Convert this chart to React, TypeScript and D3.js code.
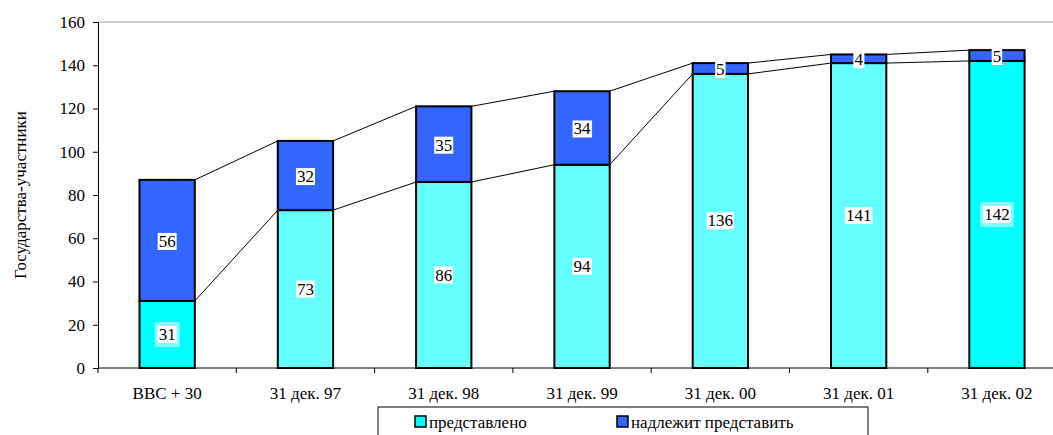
import React, { useEffect, useRef } from "react";
import * as d3 from "d3";

const categories = ["ВВС + 30", "31 дек. 97", "31 дек. 98", "31 дек. 99", "31 дек. 00", "31 дек. 01", "31 дек. 02"];
const submitted = [31, 73, 86, 94, 136, 141, 142];
const pending = [56, 32, 35, 34, 5, 4, 5];
const yTicks = [0, 20, 40, 60, 80, 100, 120, 140, 160];
const seriesNames = ["представлено", "надлежит представить"];

const FONT = '"Liberation Serif", LiberationSerif, Tinos, "Times New Roman", Times, "DejaVu Serif", "Noto Serif", serif';

const App: React.FC = () => {
  const ref = useRef<SVGSVGElement>(null);

  useEffect(() => {
    const width = 1053;
    const height = 435;
    const left = 98;
    const top = 22;
    const bottom = 368;
    const bandW = 138.3;
    const fs = "17px";

    const svg = d3.select(ref.current).attr("width", width).attr("height", height);
    svg.selectAll("*").remove();

    const x = d3.scaleBand<string>()
      .domain(categories)
      .range([left, left + bandW * categories.length])
      .paddingInner(0.6)
      .paddingOuter(0.3);
    const y = d3.scaleLinear().domain([0, 160]).range([bottom, top]);

    // top border of plot area
    svg.append("line")
      .attr("x1", left).attr("x2", width)
      .attr("y1", top).attr("y2", top)
      .attr("stroke", "#a0a0a0");

    const cyan = (i: number) => (i === 0 || i === categories.length - 1 ? "#00ffff" : "#66ffff");
    const blue = "#3366ff";

    // series lines
    const g = svg.append("g");
    for (let i = 0; i < categories.length - 1; i++) {
      const x1 = x(categories[i])! + x.bandwidth();
      const x2 = x(categories[i + 1])!;
      g.append("line")
        .attr("x1", x1).attr("x2", x2)
        .attr("y1", y(submitted[i])).attr("y2", y(submitted[i + 1]))
        .attr("stroke", "#000").attr("stroke-width", 1);
      g.append("line")
        .attr("x1", x1).attr("x2", x2)
        .attr("y1", y(submitted[i] + pending[i])).attr("y2", y(submitted[i + 1] + pending[i + 1]))
        .attr("stroke", "#000").attr("stroke-width", 1);
    }

    // bars
    categories.forEach((c, i) => {
      const bx = x(c)!;
      svg.append("rect")
        .attr("x", bx).attr("width", x.bandwidth())
        .attr("y", y(submitted[i])).attr("height", y(0) - y(submitted[i]))
        .attr("fill", cyan(i)).attr("stroke", "#000").attr("stroke-width", 2);
      svg.append("rect")
        .attr("x", bx).attr("width", x.bandwidth())
        .attr("y", y(submitted[i] + pending[i])).attr("height", y(submitted[i]) - y(submitted[i] + pending[i]))
        .attr("fill", blue).attr("stroke", "#000").attr("stroke-width", 2);
    });

    // value labels
    const label = (cx: number, cy: number, text: string, halo: boolean) => {
      const t = svg.append("text")
        .attr("x", cx).attr("y", cy)
        .attr("text-anchor", "middle").attr("dominant-baseline", "central")
        .style("font-family", FONT).style("font-size", fs)
        .text(text);
      const bb = (t.node() as SVGTextElement).getBBox();
      if (halo) {
        svg.insert("rect", () => t.node())
          .attr("x", bb.x - 4).attr("y", bb.y - 3)
          .attr("width", bb.width + 8).attr("height", bb.height + 6)
          .attr("fill", "#80ffff");
      }
      svg.insert("rect", () => t.node())
        .attr("x", bb.x - 1).attr("y", bb.y + 1)
        .attr("width", bb.width + 2).attr("height", bb.height - 2)
        .attr("fill", "#fff");
    };
    categories.forEach((c, i) => {
      const cx = x(c)! + x.bandwidth() / 2;
      const halo = i === 0 || i === categories.length - 1;
      label(cx, (y(0) + y(submitted[i])) / 2, String(submitted[i]), halo);
      label(cx, (y(submitted[i]) + y(submitted[i] + pending[i])) / 2 + 1, String(pending[i]), false);
    });

    // y axis
    const ya = svg.append("g")
      .attr("transform", `translate(${left},0)`)
      .call(d3.axisLeft(y).tickValues(yTicks).tickSize(5).tickPadding(8));
    ya.select(".domain").attr("stroke", "#000");
    ya.selectAll("text").style("font-family", FONT).style("font-size", fs).attr("fill", "#000");

    // x axis
    const xa = svg.append("g").attr("transform", `translate(0,${bottom})`);
    xa.append("line").attr("x1", left).attr("x2", width).attr("stroke", "#000");
    for (let i = 0; i <= categories.length; i++) {
      const tx = left + bandW * i;
      xa.append("line").attr("x1", tx).attr("x2", tx).attr("y1", 0).attr("y2", 5).attr("stroke", "#000");
    }
    categories.forEach((c) => {
      xa.append("text")
        .attr("x", x(c)! + x.bandwidth() / 2).attr("y", 31)
        .attr("text-anchor", "middle")
        .style("font-family", FONT).style("font-size", fs)
        .text(c);
    });

    // y label
    svg.append("text")
      .attr("transform", `translate(26,195) rotate(-90)`)
      .attr("text-anchor", "middle")
      .style("font-family", FONT).style("font-size", fs)
      .text("Государства-участники");

    // legend
    const lg = svg.append("g");
    lg.append("rect")
      .attr("x", 378).attr("y", 407).attr("width", 490).attr("height", 40)
      .attr("fill", "#fff").attr("stroke", "#000").attr("stroke-width", 1);
    const items = [
      { x: 415, color: "#00ffff", name: seriesNames[0] },
      { x: 617, color: blue, name: seriesNames[1] },
    ];
    items.forEach((it) => {
      lg.append("rect")
        .attr("x", it.x).attr("y", 416).attr("width", 11).attr("height", 11)
        .attr("fill", it.color).attr("stroke", "#000").attr("stroke-width", 1.5);
      lg.append("text")
        .attr("x", it.x + 14).attr("y", 428)
        .style("font-family", FONT).style("font-size", fs)
        .text(it.name);
    });
  }, []);

  return <svg ref={ref} style={{ display: "block", position: "absolute", left: 0, top: 0 }} />;
};

export default App;
